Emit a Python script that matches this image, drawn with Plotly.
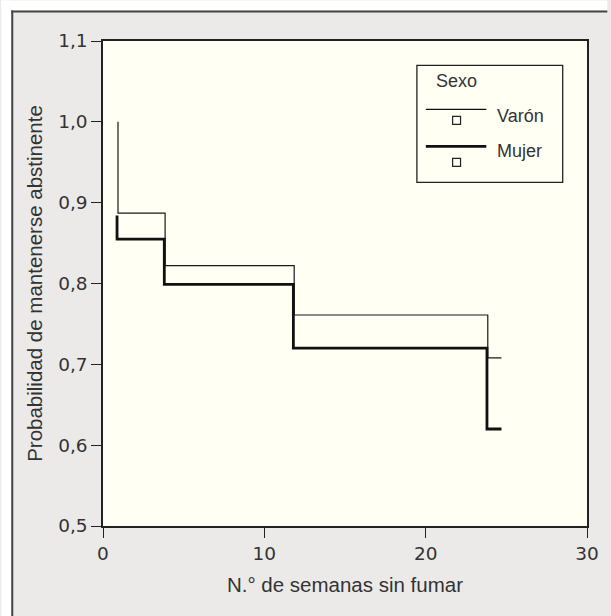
import plotly.graph_objects as go

# ---- data ----
varon_x = [0.93, 0.93, 3.85, 11.85, 23.85, 24.7]
varon_y = [1.000, 0.887, 0.822, 0.761, 0.708, 0.708]
mujer_x = [0.87, 0.87, 3.80, 11.80, 23.80, 24.7]
mujer_y = [0.884, 0.855, 0.799, 0.720, 0.620, 0.620]
x_ticks = [0, 10, 20, 30]
y_ticks = [0.5, 0.6, 0.7, 0.8, 0.9, 1.0, 1.1]
y_ticklabels = ["0,5", "0,6", "0,7", "0,8", "0,9", "1,0", "1,1"]
legend_title = "Sexo"
series_names = ["Varón", "Mujer"]

W, H = 611, 616
L, R, T, B = 102.5, 590.5, 40.5, 526.0
FONT = "Liberation Sans, Arial, Helvetica, sans-serif"
TICKFONT = "DejaVu Sans, Liberation Sans, sans-serif"
TXT = "#333333"


def px(x):
    return (x - L) / (R - L)


def py(y):
    return (B - y) / (B - T)


fig = go.Figure()
fig.add_trace(go.Scatter(x=varon_x, y=varon_y, mode="lines", line_shape="hv",
                         line=dict(color="#1a1a1a", width=1.2), name=series_names[0],
                         showlegend=False))
fig.add_trace(go.Scatter(x=mujer_x, y=mujer_y, mode="lines", line_shape="hv",
                         line=dict(color="#111111", width=2.8), name=series_names[1],
                         showlegend=False))

shapes = []
annotations = []
# outer frame: white margin band top/left, dark border line
shapes.append(dict(type="rect", xref="paper", yref="paper", x0=px(0), x1=px(W),
                   y0=py(0), y1=py(10), fillcolor="white", line=dict(width=0), layer="above"))
shapes.append(dict(type="rect", xref="paper", yref="paper", x0=px(0), x1=px(10),
                   y0=py(0), y1=py(H), fillcolor="white", line=dict(width=0), layer="above"))
shapes.append(dict(type="line", xref="paper", yref="paper", x0=px(10), x1=px(W),
                   y0=py(11), y1=py(11), line=dict(color="#444444", width=2)))
shapes.append(dict(type="line", xref="paper", yref="paper", x0=px(11), x1=px(11),
                   y0=py(10), y1=py(H), line=dict(color="#444444", width=2)))

# legend box
shapes.append(dict(type="rect", xref="paper", yref="paper", x0=px(419), x1=px(566),
                   y0=py(65), y1=py(182), line=dict(color="#222222", width=1.3),
                   fillcolor="rgba(0,0,0,0)"))
annotations.append(dict(xref="paper", yref="paper", x=px(436), y=py(81), text=legend_title,
                        showarrow=False, xanchor="left", yanchor="middle",
                        font=dict(family=FONT, size=18, color=TXT)))
leg_rows = [(109, 120, 116, 1.2), (146, 162, 151, 2.8)]
for name, (ly, sy, ty, lw) in zip(series_names, leg_rows):
    shapes.append(dict(type="line", xref="paper", yref="paper", x0=px(428), x1=px(489),
                       y0=py(ly), y1=py(ly), line=dict(color="#111111", width=lw)))
    shapes.append(dict(type="rect", xref="paper", yref="paper", x0=px(455), x1=px(463),
                       y0=py(sy - 4), y1=py(sy + 4), line=dict(color="#222222", width=1.2),
                       fillcolor="#fffff4"))
    annotations.append(dict(xref="paper", yref="paper", x=px(498), y=py(ty), text=name,
                            showarrow=False, xanchor="left", yanchor="middle",
                            font=dict(family=FONT, size=18, color=TXT)))

fig.update_layout(
    width=W, height=H,
    margin=dict(l=L, r=W - R, t=T, b=H - B, pad=0),
    paper_bgcolor="#ebeae8",
    plot_bgcolor="#fffff4",
    font=dict(family=FONT, size=19, color=TXT),
    shapes=shapes,
    annotations=annotations,
    showlegend=False,
    xaxis=dict(range=[0, 30], tickvals=x_ticks, ticks="outside", ticklen=10,
               tickcolor="#222222", tickwidth=1.3, showline=True, mirror=True,
               linecolor="#222222", linewidth=1.5, showgrid=False, zeroline=False,
               title=dict(text="N.° de semanas sin fumar", standoff=15,
                          font=dict(size=20.5, color=TXT)),
               tickfont=dict(family=TICKFONT, size=18.5, color=TXT)),
    yaxis=dict(range=[0.5, 1.1], tickvals=y_ticks, ticktext=y_ticklabels, ticks="outside",
               ticklen=10, tickcolor="#222222", tickwidth=1.3, showline=True, mirror=True,
               linecolor="#222222", linewidth=1.5, showgrid=False, zeroline=False,
               title=dict(text="Probabilidad de mantenerse abstinente", standoff=10,
                          font=dict(size=20.5, color=TXT)),
               tickfont=dict(family=TICKFONT, size=18.5, color=TXT)),
)

fig.write_html("out.html",
               post_script="document.documentElement.style.overflow='hidden';"
                           "document.body.style.overflow='hidden';"
                           "document.body.style.margin='0';")
